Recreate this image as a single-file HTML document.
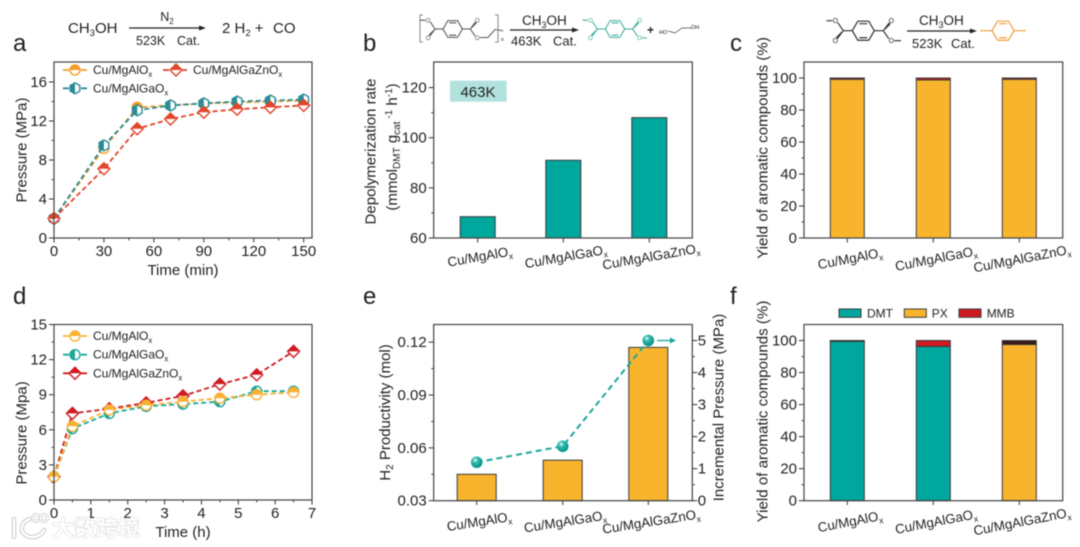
<!DOCTYPE html>
<html lang="en">
<head>
<meta charset="utf-8">
<title>Catalyst performance panels</title>
<style>
html,body{margin:0;padding:0;background:#fff;}
#fig{display:block;width:1080px;height:547px;filter:blur(.45px);}
text{font-family:"Liberation Sans","Noto Sans CJK SC",sans-serif;fill:#222;}
</style>
</head>
<body>
<svg id="fig" xmlns="http://www.w3.org/2000/svg" width="1080" height="547" viewBox="0 0 1080 547">
  <defs>
    <radialGradient id="ball" cx="38%" cy="32%" r="70%">
      <stop offset="0" stop-color="#e4fbf8"/><stop offset=".35" stop-color="#2fb9ae"/><stop offset="1" stop-color="#048d84"/>
    </radialGradient>
  </defs>
  <rect width="1080" height="547" fill="#fff"/>

  <text x="13" y="51" font-size="24">a</text>
  <text x="363" y="51" font-size="24">b</text>
  <text x="730" y="51" font-size="24">c</text>
  <text x="13" y="304" font-size="24">d</text>
  <text x="363" y="304" font-size="24">e</text>
  <text x="730" y="304" font-size="24">f</text>

  <g>
    <text x="68" y="33" font-size="15">CH<tspan font-size="9.5" dy="3">3</tspan><tspan dy="-3">OH</tspan></text>
    <text x="167" y="21" font-size="12.5" text-anchor="middle">N<tspan font-size="8" dy="3">2</tspan></text>
    <line x1="129" y1="28" x2="202" y2="28" stroke="#222" stroke-width="1.2"/>
    <path d="M199 25.5L206 28L199 30.5Z" fill="#222"/>
    <text x="136" y="45" font-size="12.5">523K</text>
    <text x="177" y="45" font-size="12.5">Cat.</text>
    <text x="222" y="33" font-size="15">2 H<tspan font-size="9.5" dy="3">2</tspan><tspan dy="-3"> +</tspan></text>
    <text x="273" y="33" font-size="15">CO</text>
  </g>

  <g id="schemeB">
    <text x="522" y="25" font-size="13.5">CH<tspan font-size="9" dy="3">3</tspan><tspan dy="-3">OH</tspan></text>
    <line x1="510" y1="30" x2="575" y2="30" stroke="#222" stroke-width="1.3"/>
    <path d="M572 27.500L579 30L572 32.500Z" fill="#222"/>
    <text x="511" y="45.500" font-size="13">463K</text>
    <text x="553" y="45.500" font-size="13">Cat.</text>
    <text x="647" y="34" font-size="12" font-weight="bold">+</text>
    <text x="659" y="34" font-size="5.500">HO</text>
    <path d="M668 31L675 33L682 28L692 28" fill="none" stroke="#444" stroke-width=".7"/>
    <text x="691" y="29" font-size="5.500">OH</text>
    <text x="501" y="41" font-size="5">n</text>
  </g>

  <g id="schemeC">
    <text x="919" y="25" font-size="13.5">CH<tspan font-size="9" dy="3">3</tspan><tspan dy="-3">OH</tspan></text>
    <line x1="907" y1="31" x2="973" y2="31" stroke="#222" stroke-width="1.3"/>
    <path d="M970 28.500L977 31L970 33.500Z" fill="#222"/>
    <text x="912" y="48" font-size="13">523K</text>
    <text x="951" y="48" font-size="13">Cat.</text>
  </g>

  <g id="panels"></g>

  <g>
    <g fill="none" stroke-linecap="round">
      <path d="M14 519V537M30 519C20 522 18 534 30 537C37 538 42 534 44 530" stroke="#c9c9c9" stroke-width="4.500"/>
      <path d="M14 519V537M30 519C20 522 18 534 30 537C37 538 42 534 44 530" stroke="#fff" stroke-width="2.500"/>
      <circle cx="36" cy="518" r="3.500" stroke="#c9c9c9" stroke-width="3"/>
      <circle cx="36" cy="518" r="3.500" stroke="#fff" stroke-width="1.500"/>
      <circle cx="44" cy="518" r="3.500" stroke="#c9c9c9" stroke-width="3"/>
      <circle cx="44" cy="518" r="3.500" stroke="#fff" stroke-width="1.500"/>
    </g>
    <text x="52" y="536" font-size="22" font-weight="bold" style="fill:#fff;stroke:#d4d4d4;stroke-width:1px;paint-order:stroke">大数跨境</text>
  </g>
</svg>

<script>
/* ---------- panel a ---------- */
const timeMin = [0, 30, 50, 70, 90, 110, 130, 150];
const pressureAlA = [2, 9.2, 13.4, 13.6, 13.8, 13.9, 14.0, 14.1];
const pressureGaA = [2, 9.5, 13.1, 13.6, 13.8, 14.0, 14.1, 14.2];
const pressureZnA = [2, 7.1, 11.2, 12.2, 12.9, 13.2, 13.4, 13.6];
const xTicksA = [0, 30, 60, 90, 120, 150];
const yTicksA = [0, 4, 8, 12, 16];

/* ---------- panel b ---------- */
const catalysts = ['Cu/MgAlOx', 'Cu/MgAlGaOx', 'Cu/MgAlGaZnOx'];
const depolyRate = [68.5, 91, 108];
const yTicksB = [60, 80, 100, 120];

/* ---------- panel c ---------- */
const pxYieldC = [99.2, 98.8, 99.2];
const mmbYieldC = [0.8, 1.2, 0.8];
const yTicksC = [0, 20, 40, 60, 80, 100];

/* ---------- panel d ---------- */
const timeH = [0, 0.5, 1.5, 2.5, 3.5, 4.5, 5.5, 6.5];
const pressureAlD = [2, 6.3, 7.7, 8.1, 8.4, 8.7, 9.0, 9.2];
const pressureGaD = [2, 6.1, 7.4, 8.0, 8.2, 8.4, 9.3, 9.3];
const pressureZnD = [2, 7.4, 7.8, 8.3, 8.9, 9.9, 10.7, 12.7];
const xTicksD = [0, 1, 2, 3, 4, 5, 6, 7];
const yTicksD = [0, 3, 6, 9, 12, 15];

/* ---------- panel e ---------- */
const h2Productivity = [0.045, 0.053, 0.117];
const incrementalPressure = [1.2, 1.7, 5.0];
const yTicksE = [0.03, 0.06, 0.09, 0.12];
const yRightTicksE = [0, 1, 2, 3, 4, 5];

/* ---------- panel f ---------- */
const dmtYieldF = [99.5, 96.3, 0];
const pxYieldF = [0, 0, 97.5];
const mmbYieldF = [0.5, 3.7, 2.5];

const NS = 'http://www.w3.org/2000/svg';
const root = document.getElementById('panels');
const ORANGE = '#f9b42d', TEAL = '#00a79d', RED = '#cf1a20', EDGE = '#3a3a3a';
const TICK_SIZE = 15, TITLE_SIZE = 15;

function mk(tag, attrs, parent) {
  const e = document.createElementNS(NS, tag);
  for (const k in attrs) e.setAttribute(k, attrs[k]);
  if (parent) parent.appendChild(e);
  return e;
}
function tag(e, name) {
  
  
  return e;
}
function scale(d0, d1, r0, r1) {
  return v => r0 + (v - d0) * (r1 - r0) / (d1 - d0);
}
function text(parent, x, y, str, size, anchor, name) {
  const t = mk('text', {x: x, y: y, 'font-size': size, 'text-anchor': anchor || 'start'}, parent);
  t.textContent = str;
  return tag(t, name);
}
function subText(parent, x, y, label, size, anchor, name, rot) {
  const t = mk('text', {x: x, y: y, 'font-size': size, 'text-anchor': anchor || 'start'}, parent);
  if (rot) t.setAttribute('transform', 'rotate(' + rot + ' ' + x + ' ' + y + ')');
  t.appendChild(document.createTextNode(label.slice(0, -1)));
  const s = mk('tspan', {'font-size': size * 0.65, dy: size * 0.25}, t);
  s.textContent = label.slice(-1);
  return tag(t, name);
}
function rotLabel(parent, x, y, size, name, html) {
  const t = mk('text', {x: x, y: y, 'font-size': size, 'text-anchor': 'middle', transform: 'rotate(-90 ' + x + ' ' + y + ')'}, parent);
  t.innerHTML = html;
  return tag(t, name);
}
function frame(g, x0, y0, x1, y1) {
  const f = mk('rect', {x: x0, y: y0, width: x1 - x0, height: y1 - y0, fill: 'none', stroke: '#444', 'stroke-width': 1.2}, g);
  tag(f, 'plot-frame');
}
function xAxis(g, sx, yBase, ticks, minorStep, labelY) {
  const last = ticks[ticks.length - 1];
  for (const v of ticks) {
    const x = sx(v);
    const l = mk('line', {x1: x, x2: x, y1: yBase, y2: yBase + 4.5, stroke: '#333', 'stroke-width': 1}, g);
    tag(l, 'x-tick');
    text(g, x, labelY, String(v), TICK_SIZE, 'middle', 'x-tick-label');
  }
  if (minorStep) {
    for (let v = ticks[0] + minorStep; v < last; v += 2 * minorStep) {
      const l = mk('line', {x1: sx(v), x2: sx(v), y1: yBase, y2: yBase + 2.500, stroke: '#333', 'stroke-width': .9}, g);
      tag(l, 'x-minor-tick');
    }
  }
}
function yAxis(g, sy, xBase, ticks, side, fmt) {
  const dir = side === 'right' ? 1 : -1;
  ticks.forEach((v, i) => {
    const y = sy(v);
    const l = mk('line', {x1: xBase, x2: xBase + dir * 5, y1: y, y2: y, stroke: '#333', 'stroke-width': 1}, g);
    tag(l, 'y-tick');
    text(g, xBase + dir * (side === 'right' ? 5.5 : 7), y + 5, fmt ? fmt(v) : String(v), TICK_SIZE, side === 'right' ? 'start' : 'end', 'y-tick-label');
    if (i < ticks.length - 1) {
      const my = sy((v + ticks[i + 1]) / 2);
      const m = mk('line', {x1: xBase, x2: xBase + dir * 2.500, y1: my, y2: my, stroke: '#333', 'stroke-width': .9}, g);
      tag(m, 'y-minor-tick');
    }
  });
}
function marker(g, kind, x, y, color, name) {
  const w = mk('g', {transform: 'translate(' + x + ' ' + y + ')'}, g);
  tag(w, name);
  const sw = 1.4;
  if (kind === 'circle-top') {
    mk('circle', {r: 5, fill: '#fff', stroke: color, 'stroke-width': sw}, w);
    mk('path', {d: 'M-5 0A5 5 0 0 1 5 0Z', fill: color}, w);
  } else if (kind === 'circle-left') {
    mk('circle', {r: 5, fill: '#fff', stroke: color, 'stroke-width': sw}, w);
    mk('path', {d: 'M0 -5A5 5 0 0 0 0 5Z', fill: color}, w);
  } else if (kind === 'hex-left') {
    mk('path', {d: 'M-4.800 -2.800L0 -5.500L4.800 -2.800V2.800L0 5.500L-4.800 2.800Z', fill: '#fff', stroke: color, 'stroke-width': sw}, w);
    mk('path', {d: 'M-4.800 -2.800L0 -5.500V5.500L-4.800 2.800Z', fill: color}, w);
  } else {
    mk('path', {d: 'M-6 0L0 -6L6 0L0 6Z', fill: '#fff', stroke: color, 'stroke-width': sw}, w);
    mk('path', {d: 'M-6 0L0 -6L6 0Z', fill: color}, w);
  }
}
function series(g, xs, ys, sx, sy, kind, color, name) {
  const s = mk('g', {}, g);
  tag(s, name);
  const pts = xs.map((x, i) => sx(x).toFixed(1) + ',' + sy(ys[i]).toFixed(1)).join(' ');
  const line = mk('polyline', {points: pts, fill: 'none', stroke: color, 'stroke-width': 1.8, 'stroke-dasharray': '5 3'}, s);
  tag(line, name + '-line');
  xs.forEach((x, i) => marker(s, kind, sx(x), sy(ys[i]), color, name + '-point'));
}
function legendLine(g, x0, x1, y, kind, color, label, tx, name) {
  const l = mk('g', {}, g);
  tag(l, name);
  mk('line', {x1: x0, x2: x1, y1: y, y2: y, stroke: color, 'stroke-width': 1.8, 'stroke-dasharray': '6 3'}, l);
  marker(l, kind, (x0 + x1) / 2, y, color, name + '-marker');
  subText(l, tx, y + 4, label, 12, 'start', name + '-label');
}
function bar(g, cx, w, yTop, yBot, fill, name) {
  const r = mk('rect', {x: cx - w / 2, y: yTop, width: w, height: Math.max(0, yBot - yTop), fill: fill, stroke: EDGE, 'stroke-width': 1}, g);
  tag(r, name);
}

/* Panel a */
(function () {
  const g = tag(mk('g', {}, root), 'panel-a-line-chart');
  const sx = scale(0, 155, 54, 312), sy = scale(0, 18, 238, 62.500);
  series(g, timeMin, pressureAlA, sx, sy, 'circle-top', '#f39c27', 'series-cu-mgalox');
  series(g, timeMin, pressureGaA, sx, sy, 'hex-left', '#2a8c96', 'series-cu-mgalgaox');
  series(g, timeMin, pressureZnA, sx, sy, 'diamond-top', '#e2452a', 'series-cu-mgalgaznox');
  frame(g, 54, 62, 312, 238);
  xAxis(g, sx, 238, xTicksA, 15, 256);
  yAxis(g, sy, 54, yTicksA);
  text(g, 183, 275, 'Time (min)', TITLE_SIZE, 'middle', 'x-axis-title');
  rotLabel(g, 26.500, 150, TITLE_SIZE, 'y-axis-title', 'Pressure (MPa)');
  legendLine(g, 63, 87, 70, 'circle-top', '#f39c27', 'Cu/MgAlOx', 93, 'legend-cu-mgalox');
  legendLine(g, 163, 189, 70, 'diamond-top', '#e2452a', 'Cu/MgAlGaZnOx', 193, 'legend-cu-mgalgaznox');
  legendLine(g, 63, 87, 88.300, 'hex-left', '#2a8c96', 'Cu/MgAlGaOx', 93, 'legend-cu-mgalgaox');
})();

/* Panel b */
(function () {
  const g = tag(mk('g', {}, root), 'panel-b-bar-chart');
  const sy = scale(60, 130, 238, 62.500);
  const cx = [477.700, 563.300, 649.300];
  const lx = [480.700, 566.700, 652];
  const box = mk('rect', {x: 450, y: 80.700, width: 56.700, height: 21, fill: '#b2e2de'}, g);
  tag(box, 'temperature-badge');
  text(g, 478, 97, '463K', 15, 'middle', 'temperature-badge-label');
  catalysts.forEach((c, i) => {
    bar(g, cx[i], 35, sy(depolyRate[i]), 238, TEAL, 'bar-' + i);
    const l = mk('line', {x1: cx[i], x2: cx[i], y1: 238, y2: 242.500, stroke: '#333', 'stroke-width': 1}, g);
    tag(l, 'x-tick');
    subText(g, lx[i], 261, c, 13.3, 'middle', 'x-tick-label', -10);
  });
  frame(g, 433.700, 62, 692.300, 238);
  yAxis(g, sy, 433.700, yTicksB);
  rotLabel(g, 375.500, 151.500, TITLE_SIZE, 'y-axis-title', 'Depolymerization rate');
  rotLabel(g, 397, 147, 15, 'y-axis-units',
    '(mmol<tspan font-size="10" dy="3">DMT</tspan><tspan dy="-3"> g</tspan><tspan font-size="10" dy="3">cat</tspan><tspan font-size="10" dy="-8"> -1</tspan><tspan dy="5"> h</tspan><tspan font-size="10" dy="-5">-1</tspan><tspan dy="5">)</tspan>');
})();

/* Panel c */
(function () {
  const g = tag(mk('g', {}, root), 'panel-c-stacked-bar-chart');
  const sy = scale(0, 110, 238, 62);
  const cx = [847.300, 933.300, 1019.300];
  const lx = [851, 937, 1023];
  catalysts.forEach((c, i) => {
    const top = pxYieldC[i] + mmbYieldC[i];
    bar(g, cx[i], 34, sy(pxYieldC[i]), 238, ORANGE, 'bar-px-' + i);
    bar(g, cx[i], 34, sy(top), sy(pxYieldC[i]), RED, 'bar-mmb-' + i);
    const l = mk('line', {x1: cx[i], x2: cx[i], y1: 238, y2: 242.500, stroke: '#333', 'stroke-width': 1}, g);
    tag(l, 'x-tick');
    subText(g, lx[i], 263, c, 13.3, 'middle', 'x-tick-label', -11);
  });
  frame(g, 804, 62, 1062.700, 238);
  yAxis(g, sy, 804, yTicksC);
  rotLabel(g, 767.500, 148, 15.1, 'y-axis-title', 'Yield of aromatic compounds (%)');
})();

/* Panel d */
(function () {
  const g = tag(mk('g', {}, root), 'panel-d-line-chart');
  const sx = scale(0, 7, 54, 312), sy = scale(0, 15, 500, 324.500);
  series(g, timeH, pressureZnD, sx, sy, 'diamond-top', RED, 'series-cu-mgalgaznox');
  series(g, timeH, pressureGaD, sx, sy, 'circle-left', '#1aa79c', 'series-cu-mgalgaox');
  series(g, timeH, pressureAlD, sx, sy, 'circle-top', '#f8b133', 'series-cu-mgalox');
  frame(g, 54, 324.500, 312, 500);
  xAxis(g, sx, 500, xTicksD, 0.5, 518);
  yAxis(g, sy, 54, yTicksD);
  text(g, 183, 537, 'Time (h)', TITLE_SIZE, 'middle', 'x-axis-title');
  rotLabel(g, 26.500, 433, TITLE_SIZE, 'y-axis-title', 'Pressure (Mpa)');
  legendLine(g, 63, 87, 336, 'circle-top', '#f8b133', 'Cu/MgAlOx', 93, 'legend-cu-mgalox');
  legendLine(g, 63, 87, 354.700, 'circle-left', '#1aa79c', 'Cu/MgAlGaOx', 93, 'legend-cu-mgalgaox');
  legendLine(g, 63, 87, 373.300, 'diamond-top', RED, 'Cu/MgAlGaZnOx', 93, 'legend-cu-mgalgaznox');
})();

/* Panel e */
(function () {
  const g = tag(mk('g', {}, root), 'panel-e-combo-chart');
  const sy = scale(0.03, 0.13, 500.700, 324.500);
  const sr = scale(0, 5.5, 500.700, 324.500);
  const cx = [476.700, 562.700, 648.300];
  const lx = [480, 566, 652];
  catalysts.forEach((c, i) => {
    bar(g, cx[i], 39, sy(h2Productivity[i]), 500.700, ORANGE, 'bar-' + i);
    const l = mk('line', {x1: cx[i], x2: cx[i], y1: 500.700, y2: 505, stroke: '#333', 'stroke-width': 1}, g);
    tag(l, 'x-tick');
    subText(g, lx[i], 526, c, 13.3, 'middle', 'x-tick-label', -9);
  });
  const pts = cx.map((x, i) => x + ',' + sr(incrementalPressure[i]).toFixed(1)).join(' ');
  const line = mk('polyline', {points: pts, fill: 'none', stroke: '#1aa79c', 'stroke-width': 2, 'stroke-dasharray': '6 4'}, g);
  tag(line, 'incremental-pressure-line');
  cx.forEach((x, i) => {
    const c = mk('circle', {cx: x, cy: sr(incrementalPressure[i]), r: 5.800, fill: 'url(#ball)'}, g);
    tag(c, 'incremental-pressure-point');
  });
  const ay = sr(5);
  const a1 = mk('line', {x1: 657, x2: 672, y1: ay, y2: ay, stroke: '#1aa79c', 'stroke-width': 1.300}, g);
  tag(a1, 'axis-arrow-shaft');
  const a2 = mk('path', {d: 'M670 ' + (ay - 3) + 'L676 ' + ay + 'L670 ' + (ay + 3) + 'Z', fill: '#1aa79c'}, g);
  tag(a2, 'axis-arrow-head');
  frame(g, 433.700, 324.500, 692.300, 500.700);
  yAxis(g, sy, 433.700, yTicksE, 'left', v => v.toFixed(2));
  yAxis(g, sr, 692.300, yRightTicksE, 'right');
  rotLabel(g, 390, 412.500, TITLE_SIZE, 'y-axis-title-left', 'H<tspan font-size="10" dy="3">2</tspan><tspan dy="-3"> Productivity (mol)</tspan>');
  rotLabel(g, 723.500, 407.500, TITLE_SIZE, 'y-axis-title-right', 'Incremental Pressure (MPa)');
})();

/* Panel f */
(function () {
  const g = tag(mk('g', {}, root), 'panel-f-stacked-bar-chart');
  const sy = scale(0, 110, 500.700, 324.500);
  const cx = [847.300, 933.300, 1019.300];
  const lx = [851, 937, 1023];
  catalysts.forEach((c, i) => {
    const a = dmtYieldF[i], b = a + pxYieldF[i], d = b + mmbYieldF[i];
    if (a > 0) bar(g, cx[i], 34, sy(a), 500.700, TEAL, 'bar-dmt-' + i);
    if (pxYieldF[i] > 0) bar(g, cx[i], 34, sy(b), sy(a), ORANGE, 'bar-px-' + i);
    bar(g, cx[i], 34, sy(d), sy(b), i === 2 ? '#3a1a14' : RED, 'bar-mmb-' + i);
    const l = mk('line', {x1: cx[i], x2: cx[i], y1: 500.700, y2: 505, stroke: '#333', 'stroke-width': 1}, g);
    tag(l, 'x-tick');
    subText(g, lx[i], 526, c, 13.3, 'middle', 'x-tick-label', -11);
  });
  frame(g, 804, 324.500, 1062.700, 500.700);
  yAxis(g, sy, 804, yTicksC);
  rotLabel(g, 767.500, 411.500, 15.1, 'y-axis-title', 'Yield of aromatic compounds (%)');
  const leg = tag(mk('g', {}, g), 'legend');
  const entries = [['DMT', TEAL, 839, 867], ['PX', ORANGE, 904.300, 931.700], ['MMB', RED, 959, 986.700]];
  entries.forEach(e => {
    const r = mk('rect', {x: e[2], y: 309, width: 22, height: 8.300, fill: e[1], stroke: EDGE, 'stroke-width': 1}, leg);
    tag(r, 'legend-swatch');
    text(leg, e[3], 317.500, e[0], 12, 'start', 'legend-label');
  });
})();

/* Molecule sketches in the reaction schemes */
function ring(p, c) {
  const r = 11;
  const h = r * Math.sqrt(3) / 2;
  const d = 'M' + (-r) + ' 0L' + (-r / 2) + ' ' + (-h) + 'L' + (r / 2) + ' ' + (-h) +
    'L' + r + ' 0L' + (r / 2) + ' ' + h + 'L' + (-r / 2) + ' ' + h + 'Z' +
    'M-4 ' + (-h + 2.500) + 'H4M-4 ' + (h - 2.500) + 'H4';
  mk('path', {d: d, fill: 'none', stroke: c, 'stroke-width': 1.2}, p);
}
function atom(p, x, y, c) {
  const t = mk('text', {x: x, y: y + 2.500, 'font-size': 7, 'text-anchor': 'middle'}, p);
  t.style.fill = c;
  t.textContent = 'O';
}
function diester(p, cx, cy, c, s) {
  const w = mk('g', {transform: 'translate(' + cx + ' ' + cy + ') scale(' + s + ')'}, p);
  ring(w, c);
  const d = 'M11 0H20L26 -8M21.500 -1.500L27 -7M20 0L25.500 8' +
    'M-11 0H-20L-26 8M-21.500 1.500L-27 7M-20 0L-25.500 -8M-31 -10H-37';
  mk('path', {d: d, fill: 'none', stroke: c, 'stroke-width': 1.2}, w);
  atom(w, 28, -10, c);
  atom(w, 28, 10, c);
  atom(w, -28, 10, c);
  atom(w, -28, -10, c);
}
const schemeB = document.getElementById('schemeB');
const schemeC = document.getElementById('schemeC');
const pet = tag(mk('g', {}, schemeB), 'pet-structure');
diester(pet, 452.700, 29, '#555', .88);
mk('path', {d: 'M480 37.500H488L495 29.500L503 30.700', fill: 'none', stroke: '#555', 'stroke-width': 1}, pet);
mk('path', {d: 'M423 15H420V42H423M495 15H498V42H495', fill: 'none', stroke: '#888', 'stroke-width': 1}, pet);
const dmtB = tag(mk('g', {}, schemeB), 'dmt-product-structure');
diester(dmtB, 615, 29, '#3fae9f', .88);
mk('path', {d: 'M642 38H647', fill: 'none', stroke: '#3fae9f', 'stroke-width': 1}, dmtB);
const dmtC = tag(mk('g', {}, schemeC), 'dmt-reactant-structure');
diester(dmtC, 863.300, 30.700, '#333', 1);
mk('path', {d: 'M894.300 40.700H901', fill: 'none', stroke: '#333', 'stroke-width': 1.200}, dmtC);
const px = tag(mk('g', {}, schemeC), 'px-product-structure');
const pxRing = mk('g', {transform: 'translate(1003 30.700)'}, px);
ring(pxRing, '#ee9f3c');
mk('path', {d: 'M980 30.700H992M1014 30.700H1026', fill: 'none', stroke: '#ee9f3c', 'stroke-width': 1.200}, px);
</script>
</body>
</html>
